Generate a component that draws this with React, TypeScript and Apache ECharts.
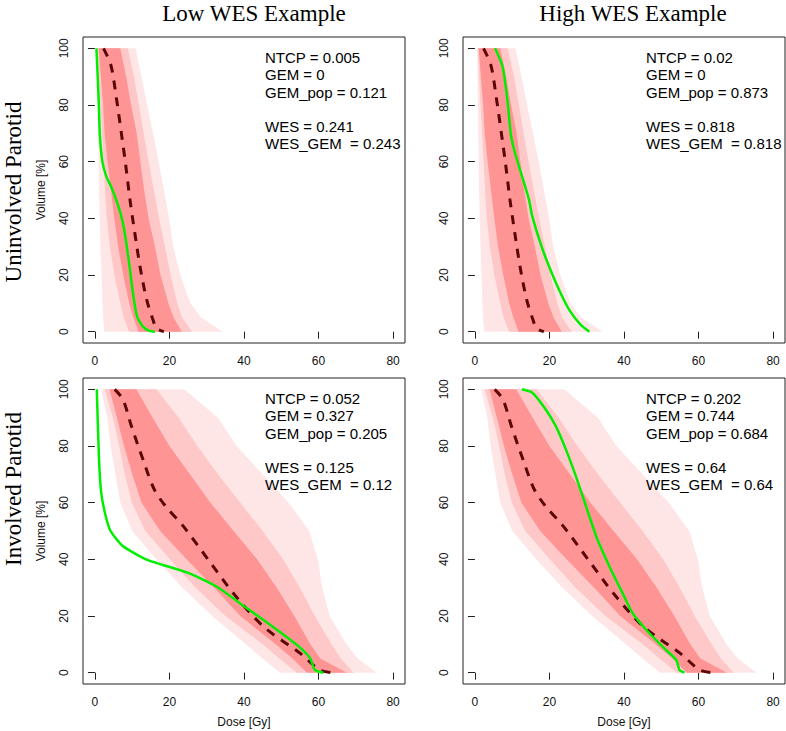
import React, { useEffect, useRef } from "react";
import * as echarts from "echarts";

// Volume levels for the population bands
const V = [100, 90, 80, 70, 60, 50, 40, 30, 20, 10, 5, 0];

// Uninvolved parotid population bands (dose at each volume level)
const uOuterL = [0.6, 0.7, 0.8, 0.9, 1.0, 1.1, 1.3, 1.5, 1.8, 2.0, 2.2, 2.5];
const uMidL = [0.8, 1.1, 1.5, 1.9, 2.3, 2.7, 3.2, 4.0, 5.2, 6.8, 7.7, 9.2];
const uCoreL = [1.0, 1.6, 2.2, 2.6, 3.4, 4.3, 5.2, 6.2, 7.6, 9.2, 10.3, 11.7];
const uCoreR = [6.8, 8.4, 9.7, 11.2, 12.2, 13.2, 14.4, 16.1, 17.6, 19.7, 21.1, 23.3];
const uMidR = [8.8, 10.5, 11.8, 13.1, 14.4, 15.8, 17.2, 18.8, 20.3, 22.1, 23.4, 26.0];
const uOuterR = [10.9, 12.5, 14.0, 15.6, 17.1, 18.5, 19.9, 21.0, 22.9, 25.6, 28.5, 34.3];

// Involved parotid population bands
const iOuterL = [1.7, 3.3, 4.2, 5.5, 6.8, 10.0, 16.5, 23.5, 31.5, 40.5, 45.0, 49.7];
const iMidL = [2.6, 4.8, 6.5, 8.0, 9.9, 13.5, 20.1, 27.0, 35.0, 45.0, 49.5, 54.2];
const iCoreL = [3.9, 5.9, 7.8, 10.0, 12.5, 17.5, 24.6, 32.0, 39.0, 48.5, 53.0, 56.9];
const iCoreR = [11.1, 15.5, 20.0, 25.5, 31.0, 37.2, 43.5, 48.8, 53.5, 57.8, 60.5, 67.6];
const iMidR = [16.5, 22.5, 27.5, 33.0, 39.0, 45.0, 50.5, 55.0, 59.0, 63.5, 66.0, 69.4];
const iOuterR = [24.0, 33.0, 38.0, 45.0, 52.0, 57.5, 59.8, 61.0, 63.0, 67.5, 70.5, 75.6];

// Population medians
const uMedDose = [2.3, 4.3, 5.8, 7.1, 8.3, 9.4, 10.7, 12.1, 13.9, 15.6, 16.5, 18.5];
const uMedVol = [100, 94, 82, 70, 58.4, 46.6, 34.8, 23, 11.2, 4.1, 1.2, 0];
const iMedDose = [5.3, 7.5, 9.8, 12.9, 15.8, 18.8, 23.7, 30.4, 37.1, 45.2, 55.1, 60.4, 64.0];
const iMedVol = [100, 96.5, 87, 75.2, 65.0, 59.0, 51.7, 39.9, 28.1, 16.3, 6.8, 0.9, 0];

// Patient DVHs
const lowUDose = [0.4, 1.0, 1.3, 2.0, 3.0, 4.4, 5.7, 7.1, 8.0, 9.3, 10.2, 11.3, 12.9, 14.5, 16.1];
const lowUVol = [100, 82, 70, 60, 55, 51, 46.6, 40.7, 34.8, 23, 13.6, 5.3, 1.8, 0.4, 0];
const highUDose = [5.4, 7.4, 8.7, 9.6, 10.5, 11.8, 13.2, 14.5, 15.4, 17.9, 19.9, 22.6, 25.3, 28.4, 30.7];
const highUVol = [100, 93.7, 82, 70, 64.3, 58.4, 52.5, 46.6, 40.7, 30, 23, 14.7, 7.7, 2.4, 0];
const lowIDose = [0.5, 1.1, 1.7, 2.9, 4.2, 7.3, 13.7, 25.0, 32.6, 40.6, 46.9, 54.1, 57.7, 59.0, 61.3];
const lowIVol = [100, 75.2, 63.4, 55.2, 50, 44.9, 40, 35.2, 30.4, 22.9, 17, 9.9, 5.2, 1.0, 0];
const highIDose = [12.6, 15.4, 19.0, 21.7, 24.4, 27.1, 28.9, 30.7, 32.9, 36.1, 39.6, 42.3, 46.8, 51.3, 54.0, 54.9, 56.2];
const highIVol = [100, 98.8, 92.9, 87, 78.8, 69.3, 62.3, 55.2, 46.9, 37.5, 28.1, 21, 13.9, 8.0, 4.5, 0.9, 0];

// Tick labels
const xTicks = [0, 20, 40, 60, 80];
const yTicks = [0, 20, 40, 60, 80, 100];

// Texts
const colTitles = ["Low WES Example", "High WES Example"];
const rowTitles = ["Uninvolved Parotid", "Involved Parotid"];
const statsText = [
  ["NTCP = 0.005", "GEM = 0", "GEM_pop = 0.121", "", "WES = 0.241", "WES_GEM  = 0.243"],
  ["NTCP = 0.02", "GEM = 0", "GEM_pop = 0.873", "", "WES = 0.818", "WES_GEM  = 0.818"],
  ["NTCP = 0.052", "GEM = 0.327", "GEM_pop = 0.205", "", "WES = 0.125", "WES_GEM  = 0.12"],
  ["NTCP = 0.202", "GEM = 0.744", "GEM_pop = 0.684", "", "WES = 0.64", "WES_GEM  = 0.64"],
];

const bandColors = ["#ffe6e6", "#ffc8c8", "#ff9494"];

const zip = (a: number[], b: number[]) => a.map((v, i) => [v, b[i]]);

export default function App() {
  const ref = useRef<HTMLDivElement>(null);
  useEffect(() => {
    if (!ref.current) return;
    const chart = echarts.init(ref.current, undefined, { renderer: "svg" });

    const gridPos = [
      { left: 83, top: 37 },
      { left: 463, top: 37 },
      { left: 83, top: 378 },
      { left: 463, top: 378 },
    ];
    const rowBands = [
      [
        { lo: uOuterL, hi: uOuterR },
        { lo: uMidL, hi: uMidR },
        { lo: uCoreL, hi: uCoreR },
      ],
      [
        { lo: iOuterL, hi: iOuterR },
        { lo: iMidL, hi: iMidR },
        { lo: iCoreL, hi: iCoreR },
      ],
    ];
    const medians = [zip(uMedDose, uMedVol), zip(iMedDose, iMedVol)];
    const patients = [
      zip(lowUDose, lowUVol),
      zip(highUDose, highUVol),
      zip(lowIDose, lowIVol),
      zip(highIDose, highIVol),
    ];

    const font = "Liberation Sans, Arial, sans-serif";
    const serif = "Liberation Serif, Times New Roman, serif";

    const grid = gridPos.map((p) => ({
      left: p.left,
      top: p.top,
      width: 322,
      height: 306,
      show: true,
      borderColor: "#222",
      borderWidth: 1,
      backgroundColor: "transparent",
    }));
    const xAxis = gridPos.map((_, k) => ({
      type: "value",
      gridIndex: k,
      min: -3.2,
      max: 83.2,
      axisLine: { show: false },
      splitLine: { show: false },
      axisTick: { show: true, customValues: xTicks, length: 7, lineStyle: { color: "#222" } },
      axisLabel: { customValues: xTicks, fontSize: 12, fontFamily: font, color: "#111", margin: 12 },
    }));
    const yAxis = gridPos.map((_, k) => ({
      type: "value",
      gridIndex: k,
      min: -4,
      max: 104,
      axisLine: { show: false },
      splitLine: { show: false },
      axisTick: { show: true, customValues: yTicks, length: 7, lineStyle: { color: "#222" } },
      axisLabel: { customValues: yTicks, fontSize: 12, fontFamily: font, color: "#111", margin: 13, rotate: 90 },
    }));

    const series: any[] = [];
    gridPos.forEach((_, k) => {
      const row = k < 2 ? 0 : 1;
      const bands = rowBands[row];
      series.push({
        type: "custom",
        xAxisIndex: k,
        yAxisIndex: k,
        silent: true,
        data: bands.map((_, i) => [i, 50]),
        renderItem: (params: any, api: any) => {
          const b = bands[params.dataIndex];
          const pts: number[][] = [];
          for (let i = 0; i < V.length; i++) pts.push(api.coord([b.lo[i], V[i]]));
          for (let i = V.length - 1; i >= 0; i--) pts.push(api.coord([b.hi[i], V[i]]));
          return {
            type: "polygon",
            shape: { points: pts },
            style: { fill: bandColors[params.dataIndex], stroke: null },
          };
        },
      });
      series.push({
        type: "line",
        xAxisIndex: k,
        yAxisIndex: k,
        data: medians[row],
        showSymbol: false,
        symbol: "none",
        smooth: 0.3,
        silent: true,
        lineStyle: { color: "#5a0606", width: 3, type: [9, 8] },
      });
      series.push({
        type: "line",
        xAxisIndex: k,
        yAxisIndex: k,
        data: patients[k],
        showSymbol: false,
        symbol: "none",
        smooth: 0.2,
        silent: true,
        lineStyle: { color: "#00ee00", width: 2.5 },
      });
    });

    const statsX = [265, 646, 265, 646];
    const statsY = [49, 49, 390, 390];
    const graphic: any[] = [];
    statsText.forEach((lines, k) => {
      graphic.push({
        type: "text",
        x: statsX[k],
        y: statsY[k],
        z: 100,
        style: {
          text: lines.join("\n"),
          font: `15px ${font}`,
          fill: "#000",
          lineHeight: 17.2,
          align: "left",
          verticalAlign: "top",
        },
      });
    });
    const colX = [254, 633];
    colTitles.forEach((t, i) => {
      graphic.push({
        type: "text",
        x: colX[i],
        y: 13,
        style: { text: t, font: `23px ${serif}`, fill: "#000", align: "center", verticalAlign: "middle" },
      });
    });
    const rowY = [192, 489];
    rowTitles.forEach((t, i) => {
      graphic.push({
        type: "text",
        x: 13,
        y: rowY[i],
        rotation: Math.PI / 2,
        style: { text: t, font: `23px ${serif}`, fill: "#000", align: "center", verticalAlign: "middle" },
      });
    });
    const volY = [190, 531];
    volY.forEach((y) => {
      graphic.push({
        type: "text",
        x: 41,
        y,
        rotation: Math.PI / 2,
        style: { text: "Volume [%]", font: `12px ${font}`, fill: "#111", align: "center", verticalAlign: "middle" },
      });
    });
    [244, 624].forEach((x) => {
      graphic.push({
        type: "text",
        x,
        y: 722,
        style: { text: "Dose [Gy]", font: `12px ${font}`, fill: "#111", align: "center", verticalAlign: "middle" },
      });
    });

    chart.setOption({
      animation: false,
      backgroundColor: "#fff",
      grid,
      xAxis,
      yAxis,
      series,
      graphic,
    });
    return () => chart.dispose();
  }, []);
  return <div ref={ref} style={{ position: "fixed", left: 0, top: 0, width: 786, height: 731 }} />;
}
